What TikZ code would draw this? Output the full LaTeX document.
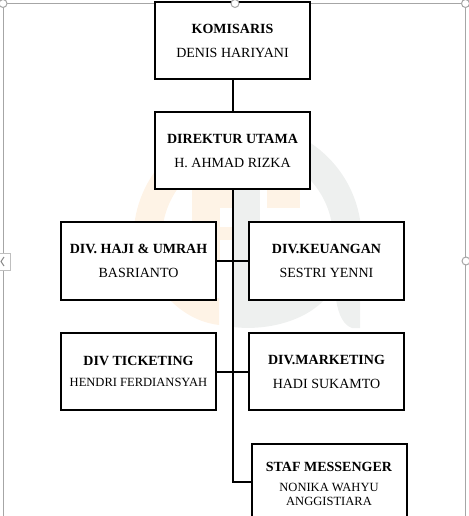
\documentclass[tikz,border=0pt]{standalone}
\usepackage{fontspec}
\setmainfont{Liberation Serif}
\definecolor{oranye}{HTML}{FEF3E6}
\definecolor{abu}{HTML}{EEF0EF}
\newcommand{\namakecil}{\fontsize{9.4pt}{11pt}\selectfont}
\tikzset{
  jabatan/.style={draw,fill=white,line width=1.5pt,minimum width=116.25pt,minimum height=57.75pt,inner sep=0pt,align=center,font=\fontsize{10.5pt}{13pt}\selectfont},
  garis/.style={line width=1.5pt},
  bingkai/.style={draw=black!35,line width=0.75pt},
  gagang/.style={draw=black!35,fill=white,line width=0.75pt}
}
\begin{document}
\begin{tikzpicture}[x=0.75pt,y=-0.75pt]
      \useasboundingbox (0,0) rectangle (468,516);

      %% watermark
      \begin{scope}
        \clip (100,100) rectangle (233,260);
        \fill[oranye,even odd rule] (247.5,238) circle (114) (247.5,238) circle (85.5);
      \end{scope}
      \begin{scope}
        \clip (233,100) rectangle (400,238);
        \fill[abu,even odd rule] (247.5,238) circle (114) (247.5,238) circle (85.5);
      \end{scope}
      \fill[oranye] (192,190) rectangle (232,208);
      \fill[oranye] (192,190) rectangle (220,260);
      \fill[oranye] (220,227) rectangle (232,240);
      \fill[oranye] (267,190) rectangle (300,208);
      \fill[oranye] (168,298) .. controls (185,316) and (203,323) .. (219,325) -- (219,298) -- cycle;
      \fill[abu] (233,190) rectangle (260,222);
      \fill[abu] (233,222) rectangle (249,300);
      \fill[abu] (233,298) -- (233,327) .. controls (265,331) and (305,322) .. (326,298) -- cycle;
      \fill[abu] (333,238) .. controls (333,290) and (335,322) .. (352,328) -- (360,328) -- (360,238) -- cycle;

      %% selection frame
      \draw[bingkai] (3,3.5) -- (465.5,3.5);
      \draw[bingkai] (3,3.5) -- (3,516);
      \draw[bingkai] (465.5,3.5) -- (465.5,516);

      %% boxes
      \node[jabatan] (komisaris) at (232.5,41) {\textbf{KOMISARIS}\\[5pt]DENIS HARIYANI};
      \node[jabatan] (direktur) at (232.5,151) {\textbf{DIREKTUR UTAMA}\\[5pt]H. AHMAD RIZKA};
      \node[jabatan] (haji) at (138.5,261) {\textbf{DIV. HAJI \& UMRAH}\\[5pt]BASRIANTO};
      \node[jabatan] (keuangan) at (326.5,261) {\textbf{DIV.KEUANGAN}\\[5pt]SESTRI YENNI};
      \node[jabatan] (ticketing) at (138.5,371.5) {\textbf{DIV TICKETING}\\[3pt]{\namakecil HENDRI FERDIANSYAH}};
      \node[jabatan] (marketing) at (326.5,371.5) {\textbf{DIV.MARKETING}\\[5pt]HADI SUKAMTO};
      \node[jabatan,anchor=north,minimum height=60pt] (staf) at (329,443) {\textbf{STAF MESSENGER}\\[2pt]{\namakecil NONIKA WAHYU}\\[-2pt]{\namakecil ANGGISTIARA}};

      %% connectors
      \coordinate (tengah1) at (direktur.south |- haji.east);
      \coordinate (tengah2) at (direktur.south |- ticketing.east);
      \coordinate (bawah) at (direktur.south |- 0,481.5);
      \draw[garis] (komisaris) -- (direktur);
      \draw[garis] (direktur) -- (bawah) -- (bawah -| staf.west);
      \draw[garis] (haji.east) -- (tengah1) -- (keuangan.west);
      \draw[garis] (ticketing.east) -- (tengah2) -- (marketing.west);

      %% handles
      \draw[gagang] (3,3.5) circle (4);
      \draw[gagang] (235,3.5) circle (4);
      \draw[gagang] (465.5,3.5) circle (4);
      \draw[gagang] (466,261) circle (4);
      \draw[black!25,fill=white,line width=0.5pt] (-1,253) rectangle (10,270);
      \draw[black!45,line width=0.75pt] (4,257) -- (1,261.5) -- (4,266);
    \end{tikzpicture}
\end{document}
